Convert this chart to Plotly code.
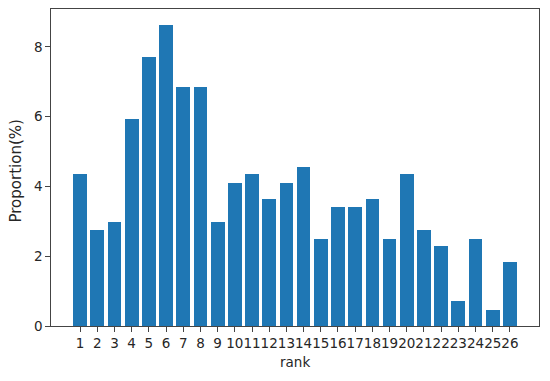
import plotly.graph_objects as go

ranks = list(range(1, 27))
rank_labels = [str(r) for r in ranks]
proportion = [4.35, 2.76, 2.97, 5.93, 7.71, 8.64, 6.85, 6.85, 2.97, 4.09,
              4.35, 3.63, 4.09, 4.55, 2.50, 3.42, 3.42, 3.63, 2.50, 4.35,
              2.76, 2.30, 0.71, 2.50, 0.45, 1.84]
y_ticks = [0, 2, 4, 6, 8]

fig = go.Figure(go.Bar(
    x=ranks, y=proportion, width=0.8,
    marker=dict(color="#1f77b4", line=dict(width=0)),
    hoverinfo="skip",
))

font = dict(family="DejaVu Sans", size=13.5, color="#262626")
fig.update_layout(
    width=550, height=381,
    margin=dict(l=50.5, r=11, t=8.5, b=54.5, autoexpand=False),
    paper_bgcolor="white", plot_bgcolor="white",
    font=font, showlegend=False, bargap=0,
    annotations=[
        dict(text="Proportion(%)", xref="paper", yref="paper",
             x=-0.0727, y=0.489, xanchor="center", yanchor="middle",
             textangle=-90, showarrow=False,
             font=dict(family="DejaVu Sans", size=15, color="#262626")),
        dict(text="rank", xref="paper", yref="paper",
             x=0.5, y=-0.1148, xanchor="center", yanchor="middle",
             showarrow=False, font=font),
    ],
)
fig.update_xaxes(
    range=[-0.69, 27.69], tickmode="array", tickvals=ranks, ticktext=rank_labels,
    ticks="outside", ticklen=4.5, tickwidth=1, tickcolor="#444444",
    showline=True, linecolor="#444444", linewidth=1.2, mirror=True,
    showgrid=False, zeroline=False, tickangle=0, automargin=False,
)
fig.update_yaxes(
    range=[0, 9.085], tickmode="array", tickvals=y_ticks,
    ticks="outside", ticklen=4.5, tickwidth=1, tickcolor="#444444",
    showline=True, linecolor="#444444", linewidth=1.2, mirror=True,
    showgrid=False, zeroline=False, automargin=False,
)
fig.write_html("out.html", config={"displayModeBar": False, "staticPlot": True},
               post_script="document.body.style.margin='0';document.body.style.overflow='hidden';")
